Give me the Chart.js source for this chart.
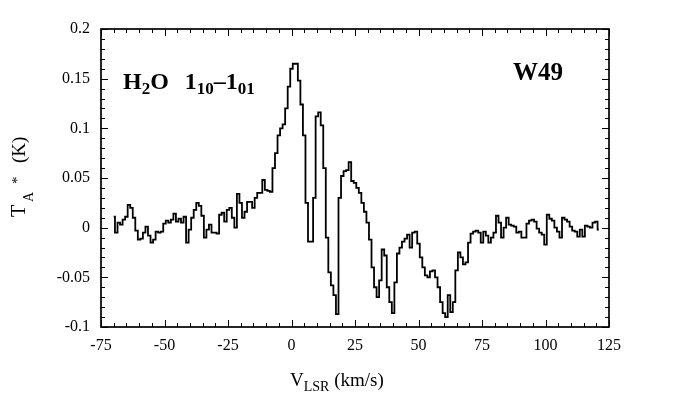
<!DOCTYPE html>
<html>
<head>
<meta charset="utf-8">
<script src="https://cdn.jsdelivr.net/npm/chart.js@4/dist/chart.umd.min.js"></script>
<style>
  html, body { margin: 0; padding: 0; background: #fff; }
  #wrap { width: 691px; height: 395px; position: relative; }
</style>
</head>
<body>
<div id="wrap"><canvas id="spectrum"></canvas></div>
<script>
// channel velocities (km/s)
const velocity = [
  -70, -69, -68, -67, -66, -65, -64, -63, -62, -61, -60, -59, -58, -57, -56, -55,
  -54, -53, -52, -51, -50, -49, -48, -47, -46, -45, -44, -43, -42, -41, -40, -39,
  -38, -37, -36, -35, -34, -33, -32, -31, -30, -29, -28, -27, -26, -25, -24, -23,
  -22, -21, -20, -19, -18, -17, -16, -15, -14, -13, -12, -11, -10, -9, -8, -7,
  -6, -5, -4, -3, -2, -1, 0, 1, 2, 3, 4, 5, 6, 7, 8, 9,
  10, 11, 12, 13, 14, 15, 16, 17, 18, 19, 20, 21, 22, 23, 24, 25,
  26, 27, 28, 29, 30, 31, 32, 33, 34, 35, 36, 37, 38, 39, 40, 41,
  42, 43, 44, 45, 46, 47, 48, 49, 50, 51, 52, 53, 54, 55, 56, 57,
  58, 59, 60, 61, 62, 63, 64, 65, 66, 67, 68, 69, 70, 71, 72, 73,
  74, 75, 76, 77, 78, 79, 80, 81, 82, 83, 84, 85, 86, 87, 88, 89,
  90, 91, 92, 93, 94, 95, 96, 97, 98, 99, 100, 101, 102, 103, 104, 105,
  106, 107, 108, 109, 110, 111, 112, 113, 114, 115, 116, 117, 118, 119, 120, 121
];

// antenna temperature T_A* (K)
const antennaTemp = [
  0.011, -0.005, 0.005, 0.003, 0.008, 0.011, 0.023, 0.020, 0.010, -0.003, -0.012, -0.011, -0.005, 0.001, -0.008, -0.015,
  -0.012, -0.004, -0.005, -0.004, 0.004, 0.007, 0.005, 0.008, 0.014, 0.006, 0.009, 0.005, 0.011, -0.015, -0.002, 0.010,
  0.018, 0.025, 0.022, 0.012, -0.010, -0.002, 0.003, -0.005, -0.005, -0.006, 0.013, 0.015, 0.006, 0.018, 0.020, 0.010,
  0.000, 0.034, 0.025, 0.010, 0.016, 0.026, 0.026, 0.020, 0.030, 0.035, 0.035, 0.048, 0.038, 0.037, 0.036, 0.060,
  0.075, 0.093, 0.100, 0.104, 0.120, 0.142, 0.160, 0.165, 0.165, 0.148, 0.124, 0.093, 0.025, -0.014, -0.014, 0.030,
  0.112, 0.116, 0.103, 0.060, -0.010, -0.045, -0.058, -0.068, -0.087, 0.030, 0.052, 0.057, 0.058, 0.066, 0.047, 0.045,
  0.040, 0.035, 0.025, 0.016, 0.005, -0.012, -0.040, -0.060, -0.070, -0.053, -0.022, -0.028, -0.060, -0.075, -0.086, -0.055,
  -0.026, -0.020, -0.014, -0.011, -0.007, -0.020, -0.005, -0.004, -0.016, -0.030, -0.040, -0.048, -0.050, -0.044, -0.043, -0.050,
  -0.060, -0.075, -0.086, -0.090, -0.068, -0.085, -0.075, -0.043, -0.025, -0.030, -0.037, -0.035, -0.015, -0.006, -0.004, -0.003,
  -0.005, -0.015, -0.004, -0.008, -0.015, -0.010, -0.005, 0.012, 0.005, -0.010, 0.000, 0.010, 0.003, 0.002, 0.001, -0.005,
  -0.004, -0.010, -0.010, 0.004, 0.007, 0.008, 0.006, -0.001, -0.005, -0.007, -0.017, 0.013, 0.009, 0.007, 0.000, -0.004,
  -0.010, 0.010, 0.008, 0.006, 0.001, -0.003, -0.004, -0.009, -0.002, -0.009, 0.002, 0.001, 0.000, 0.005, 0.006, -0.002
];

const xTickValues = [-75, -50, -25, 0, 25, 50, 75, 100, 125];
const yTickValues = [-0.1, -0.05, 0, 0.05, 0.1, 0.15, 0.2];
const yTickLabels = ['-0.1', '-0.05', '0', '0.05', '0.1', '0.15', '0.2'];

const serif = "'Liberation Serif', 'Times New Roman', serif";

// frame box with inward ticks on all four sides, plus text labels
const frameAndText = {
  id: 'frameAndText',
  afterDatasetsDraw(chart) {
    const {ctx, chartArea: a, scales: {x, y}} = chart;
    ctx.save();
    ctx.strokeStyle = '#000';
    ctx.lineWidth = 1;
    ctx.beginPath();
    for (let v = -75; v <= 125; v += 5) {
      const px = Math.round(x.getPixelForValue(v)) + 0.5;
      const len = v % 25 === 0 ? 7 : 4;
      ctx.moveTo(px, a.bottom); ctx.lineTo(px, a.bottom - len);
      ctx.moveTo(px, a.top); ctx.lineTo(px, a.top + len);
    }
    for (let i = -10; i <= 20; i++) {
      const py = Math.round(y.getPixelForValue(i / 100)) + 0.5;
      const len = i % 5 === 0 ? 7 : 4;
      ctx.moveTo(a.left, py); ctx.lineTo(a.left + len, py);
      ctx.moveTo(a.right, py); ctx.lineTo(a.right - len, py);
    }
    ctx.stroke();
    ctx.lineWidth = 1.7;
    ctx.strokeRect(a.left, a.top, a.right - a.left, a.bottom - a.top);

    ctx.fillStyle = '#000';
    ctx.textBaseline = 'alphabetic';
    ctx.textAlign = 'left';

    // H2O 1_10-1_01
    let cx = 123;
    const by = 89;
    const big = 'bold 24px ' + serif, small = 'bold 17px ' + serif;
    const put = (t, f, dy) => { ctx.font = f; ctx.fillText(t, cx, by + dy); cx += ctx.measureText(t).width; };
    put('H', big, 0); put('2', small, 5); put('O', big, 0);
    cx += 16;
    put('1', big, 0); put('10', small, 5); put('\u2013', big, 0); put('1', big, 0); put('01', small, 5);

    ctx.font = 'bold 25px ' + serif;
    ctx.textAlign = 'right';
    ctx.fillText('W49', 563, 80);

    // x title
    ctx.textAlign = 'left';
    cx = 290;
    const xb = 386;
    ctx.font = '19px ' + serif; ctx.fillText('V', cx, xb); cx += ctx.measureText('V').width;
    ctx.font = '14px ' + serif; ctx.fillText('LSR', cx, xb + 5); cx += ctx.measureText('LSR').width;
    ctx.font = '19px ' + serif; ctx.fillText(' (km/s)', cx, xb);

    // y title, rotated
    ctx.translate(25, 217);
    ctx.rotate(-Math.PI / 2);
    ctx.font = '20px ' + serif; ctx.fillText('T', 0, 0);
    ctx.font = '14px ' + serif; ctx.fillText('A', 15, 8);
    ctx.font = '15px ' + serif; ctx.fillText('*', 33, -3);
    ctx.font = '19px ' + serif; ctx.fillText('(K)', 54, 0);
    ctx.restore();
  }
};

new Chart(document.getElementById('spectrum'), {
  type: 'line',
  data: {
    datasets: [{
      data: velocity.map((v, i) => ({x: v, y: antennaTemp[i]})),
      borderColor: '#000',
      borderWidth: 1.8,
      stepped: 'middle',
      pointRadius: 0,
      fill: false
    }]
  },
  options: {
    responsive: true,
    maintainAspectRatio: false,
    animation: false,
    layout: {padding: {left: 0, right: 82, top: 29, bottom: 0}},
    plugins: {legend: {display: false}, tooltip: {enabled: false}},
    scales: {
      x: {
        type: 'linear',
        min: -75,
        max: 125,
        afterBuildTicks: s => { s.ticks = xTickValues.map(v => ({value: v})); },
        afterFit: s => { s.height = 68; },
        grid: {display: false, drawTicks: false},
        border: {display: false},
        ticks: {
          color: '#000',
          padding: 9,
          maxRotation: 0,
          font: {family: serif, size: 16},
          callback: v => String(v)
        }
      },
      y: {
        type: 'linear',
        min: -0.1,
        max: 0.2,
        afterBuildTicks: s => { s.ticks = yTickValues.map(v => ({value: v})); },
        afterFit: s => { s.width = 101; },
        grid: {display: false, drawTicks: false},
        border: {display: false},
        ticks: {
          color: '#000',
          padding: 11,
          font: {family: serif, size: 16},
          callback: (v, i) => yTickLabels[i]
        }
      }
    }
  },
  plugins: [frameAndText]
});
</script>
</body>
</html>
